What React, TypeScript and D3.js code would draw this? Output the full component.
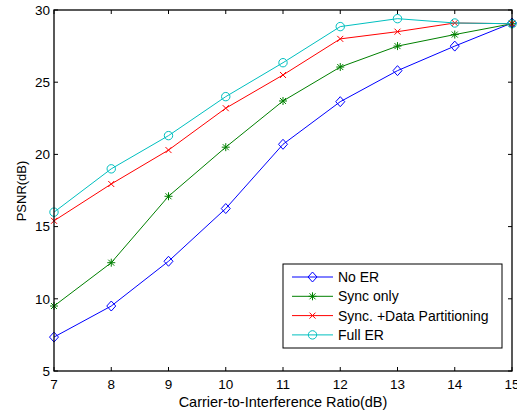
import React from "react";
import * as d3 from "d3";

const cir = [7, 8, 9, 10, 11, 12, 13, 14, 15];
const noER = [7.35, 9.5, 12.6, 16.25, 20.7, 23.65, 25.8, 27.5, 29.1];
const syncOnly = [9.5, 12.5, 17.1, 20.5, 23.7, 26.05, 27.5, 28.3, 29.05];
const syncDP = [15.4, 17.95, 20.3, 23.2, 25.5, 28.0, 28.5, 29.1, 29.05];
const fullER = [16.0, 19.0, 21.3, 24.0, 26.35, 28.85, 29.4, 29.1, 29.05];
const xTicks = [7, 8, 9, 10, 11, 12, 13, 14, 15];
const yTicks = [5, 10, 15, 20, 25, 30];

type Marker = "diamond" | "asterisk" | "cross" | "circle";
const series: { name: string; values: number[]; color: string; marker: Marker }[] = [
  { name: "No ER", values: noER, color: "#0000ff", marker: "diamond" },
  { name: "Sync only", values: syncOnly, color: "#008000", marker: "asterisk" },
  { name: "Sync. +Data Partitioning", values: syncDP, color: "#ff0000", marker: "cross" },
  { name: "Full ER", values: fullER, color: "#00bfbf", marker: "circle" },
];

const W = 517;
const H = 413;
const m = { left: 54, top: 10, right: 512, bottom: 371 };
const font = "'Liberation Sans', Arial, sans-serif";

function MarkerShape({ type, x, y, color }: { type: Marker; x: number; y: number; color: string }) {
  const s = 4;
  if (type === "diamond") {
    return (
      <path
        d={`M${x},${y - 5}L${x + 4.5},${y}L${x},${y + 5}L${x - 4.5},${y}Z`}
        fill="none"
        stroke={color}
        strokeWidth={1}
      />
    );
  }
  if (type === "circle") {
    return <circle cx={x} cy={y} r={4.2} fill="none" stroke={color} strokeWidth={1} />;
  }
  if (type === "cross") {
    return (
      <path
        d={`M${x - 3},${y - 3}L${x + 3},${y + 3}M${x - 3},${y + 3}L${x + 3},${y - 3}`}
        stroke={color}
        strokeWidth={1}
      />
    );
  }
  return (
    <path
      d={`M${x - s},${y}L${x + s},${y}M${x},${y - s}L${x},${y + s}M${x - 3},${y - 3}L${x + 3},${y + 3}M${x - 3},${y + 3}L${x + 3},${y - 3}`}
      stroke={color}
      strokeWidth={1}
    />
  );
}

export default function App() {
  const x = d3.scaleLinear().domain([7, 15]).range([m.left, m.right]);
  const y = d3.scaleLinear().domain([5, 30]).range([m.bottom, m.top]);
  const line = d3
    .line<number>()
    .x((_, i) => x(cir[i]))
    .y((v) => y(v));

  const tl = 4;
  const lg = { x0: 283, y0: 264, x1: 502, y1: 348 };

  return (
    <div style={{ position: "absolute", left: 0, top: 0 }}>
      <svg width={W} height={H} style={{ display: "block", background: "#fff" }}>
        <rect x={0} y={0} width={W} height={H} fill="#fff" />
        {/* series */}
        {series.map((s) => (
          <g key={s.name}>
            <path d={line(s.values) ?? ""} fill="none" stroke={s.color} strokeWidth={1} />
            {s.values.map((v, i) => (
              <MarkerShape key={i} type={s.marker} x={x(cir[i])} y={y(v)} color={s.color} />
            ))}
          </g>
        ))}
        {/* axes box */}
        <rect
          x={m.left}
          y={m.top}
          width={m.right - m.left}
          height={m.bottom - m.top}
          fill="none"
          stroke="#000"
          strokeWidth={1.3}
        />
        {xTicks.map((t) => (
          <g key={"x" + t}>
            <line x1={x(t)} x2={x(t)} y1={m.bottom} y2={m.bottom - tl} stroke="#000" />
            <line x1={x(t)} x2={x(t)} y1={m.top} y2={m.top + tl} stroke="#000" />
            <text
              x={x(t)}
              y={m.bottom + 18}
              textAnchor="middle"
              fontFamily={font}
              fontSize={13.5}
              fill="#000"
            >
              {t}
            </text>
          </g>
        ))}
        {yTicks.map((t) => (
          <g key={"y" + t}>
            <line x1={m.left} x2={m.left + tl} y1={y(t)} y2={y(t)} stroke="#000" />
            <line x1={m.right} x2={m.right - tl} y1={y(t)} y2={y(t)} stroke="#000" />
            <text
              x={m.left - 4}
              y={y(t) + 4.8}
              textAnchor="end"
              fontFamily={font}
              fontSize={13.5}
              fill="#000"
            >
              {t}
            </text>
          </g>
        ))}
        <text
          x={(m.left + m.right) / 2}
          y={407}
          textAnchor="middle"
          fontFamily={font}
          fontSize={14.5}
          fill="#000"
        >
          Carrier-to-Interference Ratio(dB)
        </text>
        <text
          transform={`translate(26,191) rotate(-90)`}
          textAnchor="middle"
          fontFamily={font}
          fontSize={13}
          fill="#000"
        >
          PSNR(dB)
        </text>
        {/* legend */}
        <rect
          x={lg.x0}
          y={lg.y0}
          width={lg.x1 - lg.x0}
          height={lg.y1 - lg.y0}
          fill="#fff"
          stroke="#000"
          strokeWidth={1}
        />
        {series.map((s, i) => {
          const ry = 277 + i * 19.3;
          return (
            <g key={"lg" + s.name}>
              <line x1={292} x2={333} y1={ry} y2={ry} stroke={s.color} strokeWidth={1} />
              <MarkerShape type={s.marker} x={312.5} y={ry} color={s.color} />
              <text x={338} y={ry + 5} fontFamily={font} fontSize={14} fill="#000">
                {s.name}
              </text>
            </g>
          );
        })}
      </svg>
    </div>
  );
}
